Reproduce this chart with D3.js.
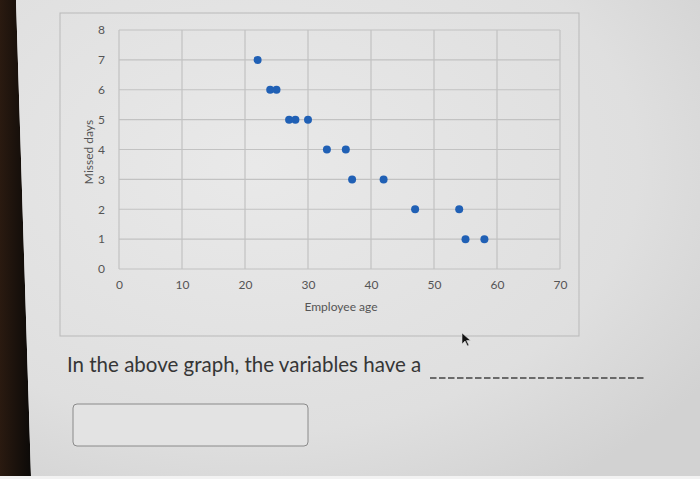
<!DOCTYPE html>
<html>
<head>
<meta charset="utf-8">
<script src="https://cdn.jsdelivr.net/npm/d3@7"></script>
<style>
  html, body { margin: 0; padding: 0; background: #111; }
  svg { display: block; }
  text { font-family: Lato, "Open Sans", sans-serif; }
</style>
</head>
<body>
<div id="chart"></div>
<script>
// data
const ages = [22, 24, 25, 27, 28, 30, 33, 36, 37, 42, 47, 54, 55, 58];
const missedDays = [7, 6, 6, 5, 5, 5, 4, 4, 3, 3, 2, 2, 1, 1];
const xTicks = [0, 10, 20, 30, 40, 50, 60, 70];
const yTicks = [0, 1, 2, 3, 4, 5, 6, 7, 8];
const xTitle = "Employee age";
const yTitle = "Missed days";
const question = "In the above graph, the variables have a";

const w = 700, h = 479;
const svg = d3.select("#chart").append("svg").attr("width", w).attr("height", h);

// screen + bezel
const defs = svg.append("defs");
const grad = defs.append("radialGradient").attr("id", "screen")
  .attr("cx", "35%").attr("cy", "35%").attr("r", "80%");
grad.append("stop").attr("offset", "0%").attr("stop-color", "#e9e9e9");
grad.append("stop").attr("offset", "70%").attr("stop-color", "#dfdfdf");
grad.append("stop").attr("offset", "100%").attr("stop-color", "#d2d2d2");
const bez = defs.append("linearGradient").attr("id", "bezel");
bez.append("stop").attr("offset", "0%").attr("stop-color", "#2a1a10");
bez.append("stop").attr("offset", "100%").attr("stop-color", "#0c0a08");

svg.append("rect").attr("width", w).attr("height", h).attr("fill", "#f2f2f2");
svg.append("path").attr("d", `M0,0 L16,0 L31,${h - 3} L0,${h - 3} Z`).attr("fill", "url(#bezel)");
svg.append("path").attr("d", `M16,0 L${w},0 L${w},${h - 3} L31,${h - 3} Z`).attr("fill", "url(#screen)");

// chart frame
svg.append("rect").attr("x", 60).attr("y", 13).attr("width", 519).attr("height", 323)
  .attr("fill", "none").attr("stroke", "#b9b9b9").attr("stroke-width", 1);

const xScale = d3.scaleLinear().domain([0, 70]).range([119, 560]);
const yScale = d3.scaleLinear().domain([0, 8]).range([269, 30]);

const g = svg.append("g");

// grid
g.append("g").selectAll("line").data(xTicks).join("line")
  .attr("x1", d => xScale(d)).attr("x2", d => xScale(d))
  .attr("y1", yScale(0)).attr("y2", yScale(8))
  .attr("stroke", "#c2c2c2").attr("stroke-width", 1.2);
g.append("g").selectAll("line").data(yTicks).join("line")
  .attr("x1", xScale(0)).attr("x2", xScale(70))
  .attr("y1", d => yScale(d)).attr("y2", d => yScale(d))
  .attr("stroke", "#c2c2c2").attr("stroke-width", 1.2);

// axes via d3 (tick labels only)
const xAxis = d3.axisBottom(xScale).tickValues(xTicks).tickSize(0).tickPadding(0);
const xAxisG = g.append("g").attr("transform", `translate(0, ${yScale(0) + 11})`).call(xAxis);
const yAxis = d3.axisLeft(yScale).tickValues(yTicks).tickSize(0).tickPadding(0);
const yAxisG = g.append("g").attr("transform", `translate(${xScale(0) - 14}, 0)`).call(yAxis);
[xAxisG, yAxisG].forEach(a => {
  a.select(".domain").remove();
  a.selectAll("text").attr("fill", "#555").style("font-size", "12px")
    .style("font-family", "Lato, 'Open Sans', sans-serif");
});

g.append("text").attr("x", 341).attr("y", 311).attr("text-anchor", "middle")
  .attr("fill", "#555").style("font-size", "12px").text(xTitle);
g.append("text").attr("transform", "translate(93, 152) rotate(-90)")
  .attr("text-anchor", "middle").attr("fill", "#555").style("font-size", "12px").text(yTitle);

// points
g.append("g").selectAll("circle").data(ages).join("circle")
  .attr("cx", d => xScale(d)).attr("cy", (d, i) => yScale(missedDays[i]))
  .attr("r", 4).attr("fill", "#2060b5");

// question text + blank
svg.append("text").attr("x", 67).attr("y", 372).attr("fill", "#363636")
  .style("font-size", "20.5px").text(question);
svg.append("line").attr("x1", 430).attr("x2", 645).attr("y1", 378).attr("y2", 378)
  .attr("stroke", "#444").attr("stroke-width", 1.4).attr("stroke-dasharray", "6.5,2.5");

// answer box
svg.append("rect").attr("x", 73).attr("y", 404).attr("width", 235).attr("height", 42).attr("rx", 4)
  .attr("fill", "#e3e3e3").attr("stroke", "#8a8a8a").attr("stroke-width", 1);

// mouse cursor
svg.append("path").attr("transform", "translate(462, 333)")
  .attr("d", "M0,0 L0,11 L3,8 L5.5,13 L7,12.3 L4.6,7.5 L8.5,7.5 Z")
  .attr("fill", "#111").attr("stroke", "#ddd").attr("stroke-width", 0.6);
</script>
</body>
</html>
